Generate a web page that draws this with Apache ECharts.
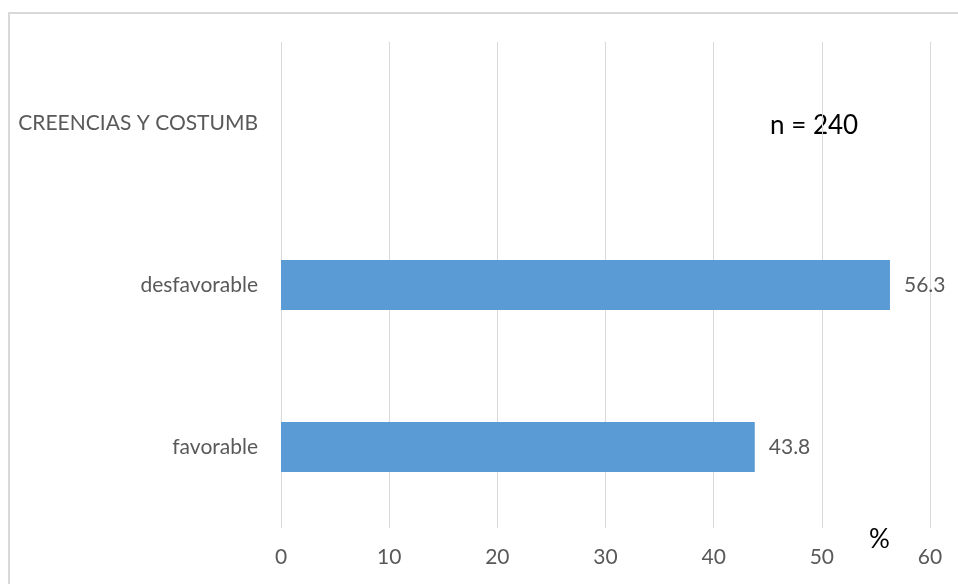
<!DOCTYPE html>
<html>
<head>
<meta charset="utf-8">
<script src="https://cdn.jsdelivr.net/npm/echarts@6/dist/echarts.min.js"></script>
<style>
  html, body { margin: 0; padding: 0; background: #fff; }
  #chart { width: 958px; height: 584px; }
</style>
</head>
<body>
<div id="chart"></div>
<script>
// categories, bottom to top
const categories = ['favorable', 'desfavorable', 'CREENCIAS Y COSTUMB']
const values = [43.8, 56.3, null]
const xTicks = { min: 0, max: 60, interval: 10 }
const sampleNote = 'n = 240'
const unitNote = '%'

const labelFont = 'Lato, "Open Sans", sans-serif'
const grey = '#595959'

const chart = echarts.init(document.getElementById('chart'))

chart.setOption({
  animation: false,
  backgroundColor: '#fff',
  grid: { left: 281, right: 28, top: 42, bottom: 56, containLabel: false },
  xAxis: {
    type: 'value',
    min: xTicks.min,
    max: xTicks.max,
    interval: xTicks.interval,
    axisLine: { show: false },
    axisTick: { show: false },
    axisLabel: { color: grey, fontSize: 21, fontFamily: labelFont, margin: 19 },
    splitLine: { show: true, lineStyle: { color: '#d9d9d9', width: 1 } }
  },
  yAxis: {
    type: 'category',
    data: categories,
    axisLine: { show: false },
    axisTick: { show: false },
    axisLabel: { color: grey, fontSize: 21, fontFamily: labelFont, margin: 23 }
  },
  series: [{
    type: 'bar',
    data: values,
    barWidth: 50,
    itemStyle: { color: '#5b9bd5' },
    label: {
      show: true,
      position: 'right',
      distance: 14,
      color: grey,
      fontSize: 21,
      fontFamily: labelFont
    }
  }],
  graphic: [
    {
      type: 'rect',
      shape: { x: 9, y: 13, width: 1000, height: 1000 },
      style: { fill: 'none', stroke: '#d9d9d9', lineWidth: 2 },
      silent: true
    },
    {
      type: 'text',
      left: 770,
      top: 113,
      style: { text: sampleNote, fill: '#000', fontSize: 26, fontFamily: labelFont }
    },
    {
      type: 'text',
      left: 869,
      top: 527,
      style: { text: unitNote, fill: '#000', fontSize: 26, fontFamily: labelFont }
    }
  ]
})
</script>
</body>
</html>
